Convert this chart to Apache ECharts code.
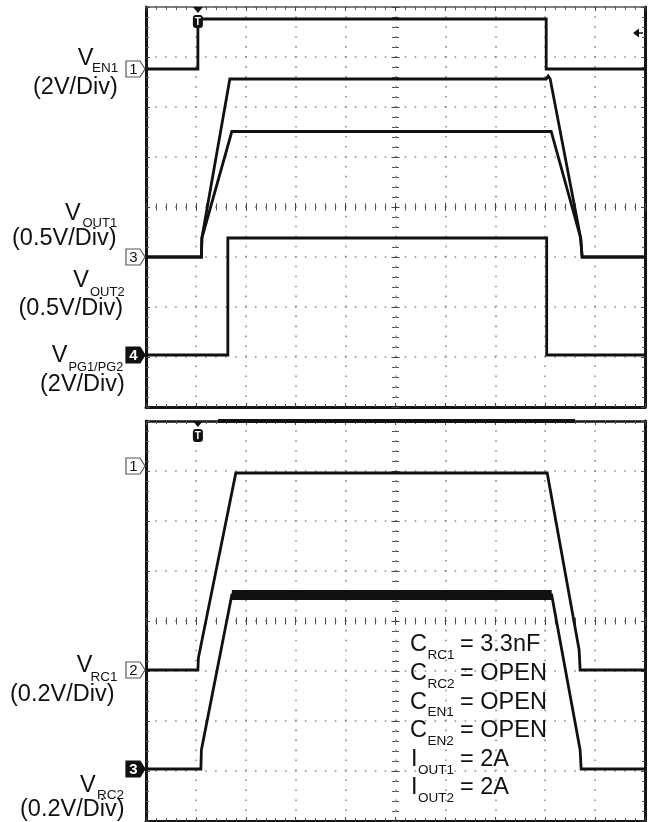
<!DOCTYPE html>
<html><head><meta charset="utf-8">
<script src="https://cdn.jsdelivr.net/npm/echarts@6/dist/echarts.min.js"></script>
<style>html,body{margin:0;padding:0;background:#fff}#c{width:653px;height:822px}</style>
</head><body><div id="c"></div>
<script>
// Horizontal position in divisions (0..10), vertical in divisions (0..8)
const vEn1X  = [0, 1.04, 1.04, 8.02, 8.02, 10];
const vEn1Y  = [6.76, 6.76, 7.76, 7.76, 6.76, 6.76];
const vOut1X = [0, 1.11, 1.12, 1.68, 8.02, 8.06, 8.10, 8.71, 8.74, 10];
const vOut1Y = [3.0, 3.0, 3.38, 6.56, 6.56, 6.62, 6.56, 3.38, 3.0, 3.0];
const vOut2X = [0, 1.11, 1.12, 1.72, 8.12, 8.71, 8.74, 10];
const vOut2Y = [3.0, 3.0, 3.38, 5.51, 5.51, 3.38, 3.0, 3.0];
const vPgX   = [0, 1.64, 1.64, 8.03, 8.03, 10];
const vPgY   = [1.04, 1.04, 3.38, 3.38, 1.04, 1.04];
const vRc1X  = [0, 1.04, 1.05, 1.80, 8.04, 8.68, 8.70, 10];
const vRc1Y  = [3.02, 3.02, 3.26, 6.96, 6.96, 3.42, 3.02, 3.02];
const vRc2X  = [0, 1.10, 1.11, 1.72, 8.13, 8.70, 8.72, 10];
const vRc2Y  = [1.04, 1.04, 1.42, 4.52, 4.52, 1.42, 1.04, 1.04];
const triggerX = 1.04;
// channel reference markers: [panel, level, label, filled]
const chMarkers = [[0, 6.76, '1', false], [0, 3.0, '3', false], [0, 1.04, '4', true],
                   [1, 7.1, '1', false], [1, 3.02, '2', false], [1, 1.04, '3', true]];
const topLabels = [['V', 'EN1', '(2V/Div)'], ['V', 'OUT1', '(0.5V/Div)'], ['V', 'OUT2', '(0.5V/Div)'], ['V', 'PG1/PG2', '(2V/Div)']];
const botLabels = [['V', 'RC1', '(0.2V/Div)'], ['V', 'RC2', '(0.2V/Div)']];
const conditions = [['C', 'RC1', '= 3.3nF'], ['C', 'RC2', '= OPEN'], ['C', 'EN1', '= OPEN'],
                    ['C', 'EN2', '= OPEN'], ['I', 'OUT1', '= 2A'], ['I', 'OUT2', '= 2A']];

const FONT = '"Liberation Sans", Arial, Helvetica, sans-serif';
const INK = '#111';
const GRIDS = [{left: 146, top: 7, width: 499, height: 400}, {left: 146, top: 421, width: 499, height: 400}];
const xAxes = [], yAxes = [];
function frame(gi, topLine) {
  const g = GRIDS[gi];
  const dotted = {show: true, lineStyle: {color: '#8c8c8c', width: 1.6, type: [1.6, 8.38], dashOffset: 0.8}};
  const base = (extra) => Object.assign({gridIndex: gi, type: 'value', axisLabel: {show: false},
      splitLine: {show: false}, minorSplitLine: {show: false}}, extra);
  const xr = {min: 0, max: 10, interval: 1}, yr = {min: 0, max: 8, interval: 1};
  const tick = (len, inside) => ({show: true, inside: inside, length: len, lineStyle: {color: '#444', width: 1}});
  const minor = (len) => ({show: true, splitNumber: 5, length: len, lineStyle: {color: '#555', width: 1}});
  const xi = xAxes.length, yi = yAxes.length;
  xAxes.push(base(Object.assign({position: 'bottom', axisLine: {show: true, onZero: false, lineStyle: {color: '#151515', width: 3}},
    axisTick: tick(4, true), minorTick: minor(3), splitLine: dotted}, xr)));
  xAxes.push(base(Object.assign({position: 'top', axisLine: {show: true, onZero: false, lineStyle: {color: topLine.c, width: topLine.w}},
    axisTick: tick(4, true), minorTick: minor(3)}, xr)));
  xAxes.push(base(Object.assign({position: 'bottom', offset: -g.height / 2, axisLine: {show: false, onZero: false},
    axisTick: tick(4, true), minorTick: minor(3.5)}, xr)));
  xAxes.push(base(Object.assign({position: 'bottom', offset: -g.height / 2, axisLine: {show: false, onZero: false},
    axisTick: tick(4, false), minorTick: minor(3.5)}, xr)));
  yAxes.push(base(Object.assign({position: 'left', axisLine: {show: true, onZero: false, lineStyle: {color: '#151515', width: 3}},
    axisTick: tick(4, true), minorTick: minor(3), splitLine: dotted}, yr)));
  yAxes.push(base(Object.assign({position: 'right', axisLine: {show: true, onZero: false, lineStyle: {color: '#151515', width: 3}},
    axisTick: tick(4, true), minorTick: minor(3)}, yr)));
  yAxes.push(base(Object.assign({position: 'left', offset: -g.width / 2, axisLine: {show: false, onZero: false},
    axisTick: tick(4, true), minorTick: minor(3.5)}, yr)));
  yAxes.push(base(Object.assign({position: 'left', offset: -g.width / 2, axisLine: {show: false, onZero: false},
    axisTick: tick(4, false), minorTick: minor(3.5)}, yr)));
  return {xi, yi};
}
const P0 = frame(0, {c: '#555', w: 1.5});
const P1 = frame(1, {c: '#151515', w: 2.5});

const zip = (xs, ys) => xs.map((x, i) => [x, ys[i]]);
function trace(name, p, xs, ys, w) {
  return {name, type: 'line', xAxisIndex: p.xi, yAxisIndex: p.yi, data: zip(xs, ys), symbol: 'none',
    lineStyle: {color: INK, width: w || 2.8, join: 'miter'}, silent: true, z: 5};
}
const series = [
  trace('VEN1', P0, vEn1X, vEn1Y),
  trace('VOUT1', P0, vOut1X, vOut1Y),
  trace('VOUT2', P0, vOut2X, vOut2Y),
  trace('VPG', P0, vPgX, vPgY),
  trace('VRC1', P1, vRc1X, vRc1Y),
  trace('VRC2', P1, vRc2X, vRc2Y),
  trace('VRC2 ripple', P1, vRc2X.slice(3, 5), vRc2Y.slice(3, 5), 10)
];

const chart = echarts.init(document.getElementById('c'), null, {renderer: 'canvas'});
chart.setOption({
  animation: false, backgroundColor: '#fff',
  grid: GRIDS.map(g => Object.assign({containLabel: false}, g)),
  xAxis: xAxes, yAxis: yAxes, series: series
});

// ---- annotations ----
const gfx = [];
function txt(t, x, y, s, extra) {
  gfx.push(Object.assign({type: 'text', x: x, y: y, z: 20,
    style: Object.assign({text: t, fontFamily: FONT, fontSize: s, fill: INK, align: 'left', verticalAlign: 'middle'}, extra || {})}));
}
// left channel labels: [V x, V y, sub x, sub y, sub size, div x, div y]
const topPos = [[77.7, 58.9, 92, 67.8, 13.5, 33, 88], [65, 213.6, 82.5, 223.8, 13, 12, 239],
                [73.3, 280.2, 90, 292.5, 13, 18.5, 309], [51.7, 355.2, 68.5, 367.2, 12.8, 40, 385]];
const botPos = [[76.7, 665.2, 90.5, 677, 13.5, 10, 695], [80, 785.2, 97, 795.3, 13.5, 20, 810]];
[[topLabels, topPos], [botLabels, botPos]].forEach(([labs, pos]) => {
  labs.forEach((l, i) => {
    const p = pos[i];
    txt(l[0], p[0], p[1], 23.5);
    txt(l[1], p[2], p[3], p[4]);
    txt(l[2], p[5], p[6], 23.5);
  });
});
conditions.forEach((c, i) => {
  const y = 645 + i * 28.6;
  const isI = c[0] === 'I';
  txt(c[0], isI ? 411 : 410, y, 23.5);
  txt(c[1], isI ? 418 : 427.5, y + 10.5, 13.5);
  txt(c[2], 460, y, 23.5);
});

// channel markers tied to the axes
const Pn = [P0, P1];
chMarkers.forEach(([panel, lvl, lab, filled]) => {
  const py = chart.convertToPixel({yAxisIndex: Pn[panel].yi}, lvl);
  const x0 = 126;
  gfx.push({type: 'polygon', z: 15, shape: {points: [[x0, py - 8], [x0 + 14, py - 8], [x0 + 19, py], [x0 + 14, py + 8], [x0, py + 8]]},
    style: {fill: filled ? INK : '#fff', stroke: filled ? INK : '#555', lineWidth: 1.2}});
  txt(lab, x0 + 7.5, py + 0.5, 15, {align: 'center', fill: filled ? '#fff' : INK, fontWeight: filled ? 'bold' : 'normal'});
});
// trigger markers
[P0, P1].forEach((p, k) => {
  const px = chart.convertToPixel({xAxisIndex: p.xi}, triggerX);
  const top = GRIDS[k].top;
  gfx.push({type: 'polygon', z: 16, shape: {points: [[px - 5, top], [px + 5, top], [px, top + 6]]}, style: {fill: INK}});
  const by = top + 8;
  gfx.push({type: 'rect', z: 16, shape: {x: px - 5, y: by, width: 10, height: 13, r: 3}, style: {fill: INK}});
  txt('T', px, by + 7, 10, {align: 'center', fill: '#fff', fontWeight: 'bold'});
});
// trigger level arrow (top panel, right side)
gfx.push({type: 'polygon', z: 16, shape: {points: [[633, 33], [639, 28.5], [639, 37.5]]}, style: {fill: INK}});
gfx.push({type: 'line', z: 16, shape: {x1: 638, y1: 33, x2: 643, y2: 33}, style: {stroke: INK, lineWidth: 1.5}});
// record indicator bar on the lower panel frame
gfx.push({type: 'line', z: 16, shape: {x1: 218, y1: 421, x2: 575, y2: 421}, style: {stroke: INK, lineWidth: 4}});

chart.setOption({graphic: {elements: gfx}});
</script></body></html>
